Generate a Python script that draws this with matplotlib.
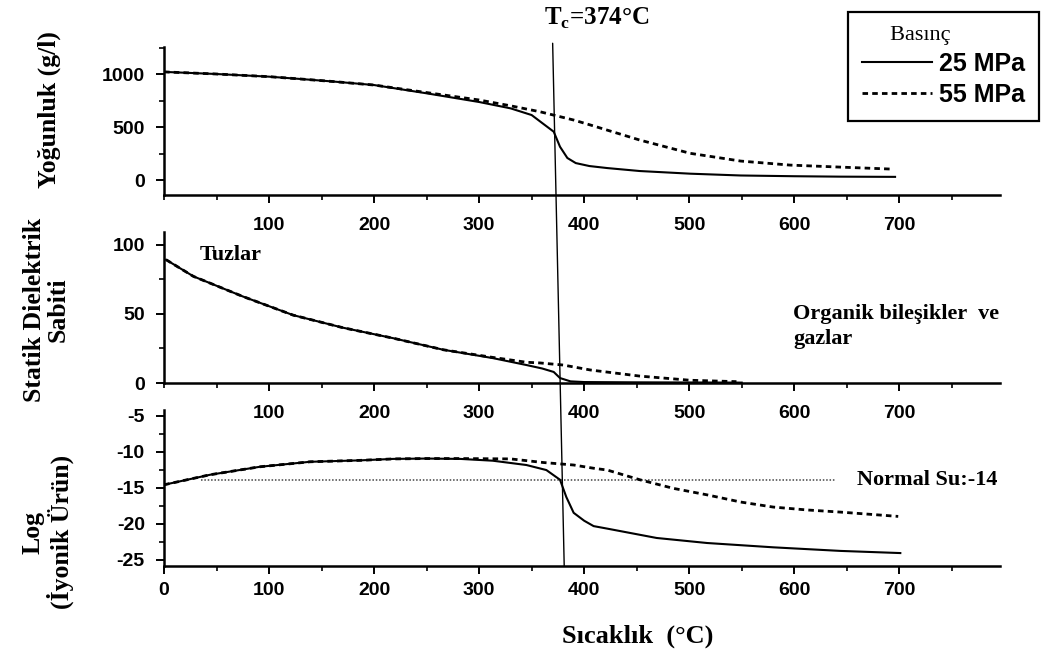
import matplotlib
matplotlib.use('Agg')
import matplotlib.pyplot as plt
from matplotlib.patches import ConnectionPatch
from matplotlib.ticker import MultipleLocator

plt.rcParams['font.family'] = ['Liberation Sans', 'DejaVu Sans']
plt.rcParams['font.weight'] = 'bold'
plt.rcParams['axes.unicode_minus'] = False
plt.rcParams['mathtext.fontset'] = 'custom'
plt.rcParams['mathtext.rm'] = 'Liberation Serif:bold'
plt.rcParams['mathtext.bf'] = 'Liberation Serif:bold'
serif = ['Liberation Serif', 'DejaVu Serif']

# density (g/l)
T_rho25 = [0, 50, 100, 130, 160, 200, 250, 300, 330, 350, 360, 371, 377, 384, 392, 405, 422, 453, 501, 549, 600, 644, 696]
rho25 = [1020, 1000, 975, 953, 930, 896, 818, 736, 676, 613, 538, 456, 314, 208, 160, 132, 113, 85, 60, 43, 36, 32, 30]
T_rho55 = [0, 50, 100, 130, 160, 200, 250, 300, 330, 358, 390, 406, 453, 501, 549, 596, 644, 691]
rho55 = [1020, 1000, 975, 953, 930, 896, 825, 755, 700, 644, 566, 519, 377, 252, 179, 141, 122, 104]

# static dielectric constant
T_eps25 = [2, 15, 28, 75, 123, 170, 218, 266, 313, 345, 360, 371, 377, 387, 400, 450, 500, 550]
eps25 = [89, 83, 77, 62.5, 49, 40, 32.4, 24, 18, 13, 10.5, 8, 3.6, 1.2, 0.7, 0.5, 0.4, 0.3]
T_eps55 = [2, 15, 28, 75, 123, 170, 218, 266, 313, 345, 358, 380, 406, 453, 501, 545]
eps55 = [89, 83, 77, 62.5, 49, 40, 32.4, 24, 18.5, 15, 14.5, 13, 9.4, 5, 2, 1]

# log ionic product
T_kw25 = [0, 44, 91, 139, 187, 218, 250, 282, 313, 345, 364, 377, 383, 390, 400, 409, 422, 469, 517, 580, 644, 701]
kw25 = [-14.6, -13.2, -12.1, -11.4, -11.2, -11.0, -10.95, -11.0, -11.25, -11.85, -12.55, -13.9, -16.3, -18.5, -19.6, -20.35, -20.7, -22.0, -22.7, -23.3, -23.8, -24.1]
T_kw55 = [0, 44, 91, 139, 187, 218, 250, 282, 330, 361, 390, 409, 422, 453, 485, 517, 549, 580, 612, 644, 699]
kw55 = [-14.6, -13.2, -12.1, -11.4, -11.2, -11.0, -10.95, -10.95, -11.0, -11.5, -11.85, -12.3, -12.55, -13.9, -15.1, -16.0, -17.0, -17.7, -18.1, -18.4, -19.0]
T_normal = [35, 640]
kw_normal = [-14, -14]

Tc = 374

fig = plt.figure(figsize=(10.61, 6.57), dpi=100)
ax1 = fig.add_axes([0.1546, 0.7032, 0.788, 0.2253])
ax2 = fig.add_axes([0.1546, 0.4170, 0.788, 0.2298])
ax3 = fig.add_axes([0.1546, 0.1385, 0.788, 0.2374])


def style(ax, ylim, major, minor, xticks, xpad):
    ax.set_facecolor('none')
    ax.set_xlim(0, 796)
    ax.set_ylim(*ylim)
    for s in ['top', 'right']:
        ax.spines[s].set_visible(False)
    for s in ['left', 'bottom']:
        ax.spines[s].set_linewidth(1.8)
    ax.set_xticks(xticks)
    ax.xaxis.set_minor_locator(MultipleLocator(50))
    ax.yaxis.set_major_locator(MultipleLocator(major))
    ax.yaxis.set_minor_locator(MultipleLocator(minor))
    ax.tick_params(which='major', length=5.8, width=1.4, labelsize=14)
    ax.tick_params(which='minor', length=3.6, width=1.2)
    ax.tick_params(axis='x', which='major', pad=xpad)
    ax.tick_params(axis='y', which='major', pad=8)


line_kw = dict(color='black', lw=1.5)
dash_kw = dict(color='black', lw=2, ls=(0, (2, 1.5)))

l25, = ax1.plot(T_rho25, rho25, **line_kw)
l55, = ax1.plot(T_rho55, rho55, **dash_kw)
style(ax1, (-141, 1255), 500, 250, range(100, 800, 100), 10)

ax2.plot(T_eps55, eps55, **dash_kw)
ax2.plot(T_eps25, eps25, **line_kw)
style(ax2, (0, 109), 50, 25, range(100, 800, 100), 10)

ax3.plot(T_normal, kw_normal, color='#444444', lw=1.1, ls=(0, (1, 1.2)))
ax3.plot(T_kw55, kw55, **dash_kw)
ax3.plot(T_kw25, kw25, **line_kw)
style(ax3, (-25.9, -4.2), 5, 2.5, range(0, 800, 100), 6)

# critical temperature line across the three panels
con = ConnectionPatch(xyA=(Tc - 4, 1290), coordsA=ax1.transData,
                      xyB=(Tc + 7, -25.9), coordsB=ax3.transData,
                      color='black', lw=1)
fig.add_artist(con)
fig.text(597 / 1061, 1 - 18 / 657, r'T$_{\mathrm{c}}$=374°C', family=serif,
         size=18, ha='center', va='center')

ax2.text(34, 92.7, 'Tuzlar', family=serif, size=16, va='center')
ax2.text(599, 57, 'Organik bileşikler  ve\ngazlar', family=serif, size=16,
         va='top', linespacing=1.35)
ax3.text(660, -14, 'Normal Su:-14', family=serif, size=16, va='center')

fig.text(49 / 1061, 1 - 110 / 657, 'Yoğunluk (g/l)', rotation=90, family=serif,
         size=18.5, ha='center', va='center')
fig.text(46 / 1061, 1 - 310 / 657, 'Statik Dielektrik\nSabiti', rotation=90,
         family=serif, size=18.5, ha='center', va='center', multialignment='center',
         linespacing=1.05)
fig.text(48 / 1061, 1 - 532 / 657, 'Log\n(İyonik Ürün)', rotation=90, family=serif,
         size=18.5, ha='center', va='center', multialignment='center', linespacing=1.1)
fig.text(638 / 1061, 1 - 636 / 657, 'Sıcaklık  (°C)', family=serif, size=19,
         ha='center', va='center')

leg = fig.legend([l25, l55], ['25 MPa', '55 MPa'], loc='upper left',
                 bbox_to_anchor=(848 / 1061, 1 - 12 / 657), borderaxespad=0,
                 title='     Basınç', alignment='left',
                 title_fontproperties={'family': serif, 'weight': 'normal', 'size': 16},
                 prop={'size': 18, 'weight': 'bold'}, handlelength=2.8,
                 handletextpad=0.3, labelspacing=0.28, borderpad=0.55,
                 fancybox=False, edgecolor='black', framealpha=1)
leg.get_frame().set_linewidth(1.6)

fig.savefig('out.png', dpi=100)
